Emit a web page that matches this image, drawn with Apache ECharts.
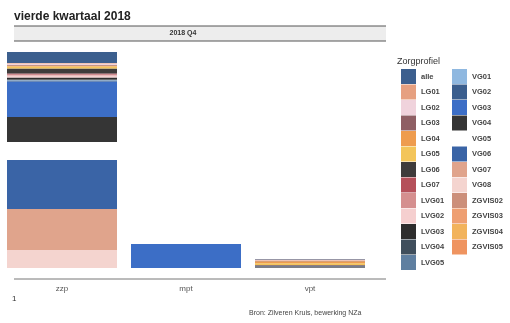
<!DOCTYPE html>
<html><head><meta charset="utf-8">
<script src="https://cdn.jsdelivr.net/npm/echarts@6/dist/echarts.min.js"></script>
<style>html,body{margin:0;padding:0;background:#fff}#c{width:510px;height:323px}</style>
</head><body><div id="c"></div>
<script>
const categories = ['zzp', 'mpt', 'vpt'];
const profielen = ['alle','LG01','LG02','LG03','LG04','LG05','LG06','LG07','LVG01','LVG02','LVG03','LVG04','LVG05',
  'VG01','VG02','VG03','VG04','VG05','VG06','VG07','VG08','ZGVIS02','ZGVIS03','ZGVIS04','ZGVIS05'];
// values per profile: [zzp, mpt, vpt]
const alle    = [11, 0, 0.3];
const LG01    = [0.5, 0, 1.2];
const LG02    = [1.5, 0, 0.4];
const LG03    = [0.5, 0, 0.3];
const LG04    = [1, 0, 2];
const LG05    = [2, 0, 1.8];
const LG06    = [5, 0, 0.4];
const LG07    = [1, 0, 0.2];
const LVG01   = [1, 0, 0.2];
const LVG02   = [2, 0, 0.2];
const LVG03   = [2, 0, 0.2];
const LVG04   = [0.5, 0, 0.1];
const LVG05   = [0.5, 0, 0.1];
const VG01    = [0.5, 0, 0];
const VG02    = [0.5, 0, 0];
const VG03    = [35.5, 24, 0.2];
const VG04    = [25, 0, 0.8];
const VG05    = [18, 0, 0];
const VG06    = [49, 0, 0.2];
const VG07    = [41, 0, 0.2];
const VG08    = [18, 0, 0.1];
const ZGVIS02 = [0, 0, 0];
const ZGVIS03 = [0, 0, 0];
const ZGVIS04 = [0, 0, 0];
const ZGVIS05 = [0, 0, 0];
const values = [alle,LG01,LG02,LG03,LG04,LG05,LG06,LG07,LVG01,LVG02,LVG03,LVG04,LVG05,
  VG01,VG02,VG03,VG04,VG05,VG06,VG07,VG08,ZGVIS02,ZGVIS03,ZGVIS04,ZGVIS05];
const colors = ['#3c5f8e','#e6a080','#f0d3dc','#8f5f64','#ee9c4e','#f3c55a','#3e3b3b','#b5505a','#d58f8f','#f5cfcf','#2d2d2d','#3f4e5c','#5f7fa0',
  '#8fb8e0','#3a5e8e','#3c6ec6','#353535','#ffffff','#3a64a6','#e0a48c','#f4d4cf','#cc8f7a','#ee9f72','#f2b35c','#ef9460'];

// ggplot stacks first level on top: push series in reverse order
const series = [];
for (let i = profielen.length - 1; i >= 0; i--) {
  series.push({
    name: profielen[i], type: 'bar', stack: 'tot', barWidth: 110,
    data: values[i], itemStyle: { color: colors[i] }, silent: true
  });
}

const legendBase = {
  orient: 'vertical', top: 69, padding: 0,
  itemWidth: 15, itemHeight: 15, itemGap: 0.5,
  icon: 'rect', selectedMode: false,
  textStyle: { fontSize: 7.5, color: '#444', fontWeight: 'bold', fontFamily: 'Liberation Sans' }
};

const chart = echarts.init(document.getElementById('c'), null, { renderer: 'canvas' });
chart.setOption({
  animation: false,
  backgroundColor: '#fff',
  title: [
    { text: 'vierde kwartaal 2018', left: 9, top: 6, textStyle: { fontSize: 12, fontWeight: 'bold', color: '#222', fontFamily: 'Liberation Sans' } },
    { text: 'Bron: Zilveren Kruis, bewerking NZa', left: 244, top: 305, textStyle: { fontSize: 7, fontWeight: 'normal', color: '#444', fontFamily: 'Liberation Sans' } },
    { text: '1', left: 7, top: 290, textStyle: { fontSize: 8, fontWeight: 'normal', color: '#333', fontFamily: 'Liberation Sans' } }
  ],
  grid: { left: 0, width: 372, top: 41, bottom: 44 },
  xAxis: {
    type: 'category', data: categories,
    axisLine: { show: false }, axisTick: { show: false },
    axisLabel: { margin: 6, fontSize: 8, color: '#555', fontFamily: 'Liberation Sans' }
  },
  yAxis: { type: 'value', min: -11, max: 227, show: false, splitLine: { show: false } },
  legend: [
    Object.assign({}, legendBase, { left: 401, data: profielen.slice(0, 13) }),
    Object.assign({}, legendBase, { left: 452, data: profielen.slice(13) })
  ],
  graphic: [
    { type: 'rect', shape: { x: 14, y: 26, width: 372, height: 15 }, style: { fill: '#ededed' }, silent: true },
    { type: 'line', shape: { x1: 14, y1: 26, x2: 386, y2: 26 }, style: { stroke: '#555', lineWidth: 1 }, silent: true },
    { type: 'line', shape: { x1: 14, y1: 41, x2: 386, y2: 41 }, style: { stroke: '#555', lineWidth: 1 }, silent: true },
    { type: 'text', x: 183, y: 33.5, style: { text: '2018 Q4', fontSize: 7, fontWeight: 'bold', fill: '#333', align: 'center', verticalAlign: 'middle', fontFamily: 'Liberation Sans' }, silent: true },
    { type: 'line', shape: { x1: 14, y1: 279, x2: 386, y2: 279 }, style: { stroke: '#777', lineWidth: 1 }, silent: true },
    { type: 'text', x: 397, y: 62, style: { text: 'Zorgprofiel', fontSize: 9, fill: '#333', align: 'left', verticalAlign: 'middle', fontFamily: 'Liberation Sans' }, silent: true }
  ],
  series: series
});
</script></body></html>
